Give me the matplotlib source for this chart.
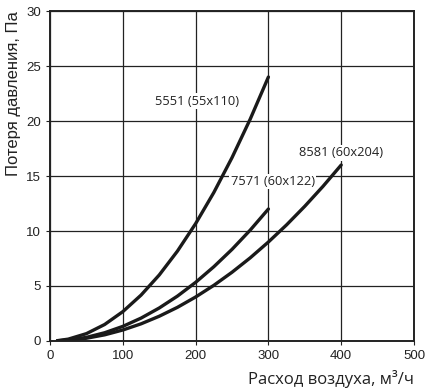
import matplotlib
matplotlib.use("Agg")
import matplotlib.pyplot as plt

x_5551 = [10, 25, 50, 75, 100, 125, 150, 175, 200, 225, 250, 275, 300]
y_5551 = [0.03, 0.17, 0.67, 1.5, 2.67, 4.17, 6.0, 8.17, 10.67, 13.5, 16.67, 20.17, 24.0]
x_7571 = [10, 25, 50, 75, 100, 125, 150, 175, 200, 225, 250, 275, 300]
y_7571 = [0.02, 0.08, 0.33, 0.75, 1.33, 2.08, 3.0, 4.08, 5.33, 6.75, 8.33, 10.08, 12.0]
x_8581 = [10, 25, 50, 75, 100, 125, 150, 175, 200, 225, 250, 275, 300, 325, 350, 375, 400]
y_8581 = [0.01, 0.06, 0.25, 0.56, 1.0, 1.56, 2.25, 3.06, 4.0, 5.06, 6.25, 7.56, 9.0, 10.56, 12.25, 14.06, 16.0]
labels = ["5551 (55x110)", "7571 (60x122)", "8581 (60x204)"]
label_pos = [(144, 21.8), (248, 14.5), (342, 17.1)]

fig = plt.figure(figsize=(4.39, 3.89), dpi=100)
ax = fig.add_axes([0.114, 0.1234, 0.829, 0.8483])

for xs, ys in [(x_5551, y_5551), (x_7571, y_7571), (x_8581, y_8581)]:
    ax.plot(xs, ys, color="#1a1a1a", lw=2.4, solid_capstyle="round", solid_joinstyle="round", zorder=3)

for lab, (lx, ly) in zip(labels, label_pos):
    ax.text(lx, ly, lab, fontsize=9.3, family="Open Sans", color="#222222", va="center", ha="left",
            zorder=4, bbox=dict(facecolor="white", edgecolor="none", pad=1.0))

ax.set_xlim(0, 500)
ax.set_ylim(0, 30)
ax.set_xticks(range(0, 501, 100))
ax.set_yticks(range(0, 31, 5))
ax.grid(True, color="#222222", lw=0.9)
ax.set_axisbelow(True)
for s in ax.spines.values():
    s.set_color("#222222")
    s.set_linewidth(1.4)
    s.set_zorder(5)
ax.tick_params(labelsize=9.5, length=3, color="#222222", labelcolor="#222222")
for t in ax.get_xticklabels() + ax.get_yticklabels():
    t.set_family("Liberation Sans")
ax.set_xlabel("Расход воздуха, м³/ч", loc="right", fontsize=12, family="Open Sans", color="#222222", labelpad=6)
ax.set_ylabel("Потеря давления, Па", loc="top", fontsize=12, family="Liberation Sans", color="#222222", labelpad=4)

fig.savefig("out.png", dpi=100)
